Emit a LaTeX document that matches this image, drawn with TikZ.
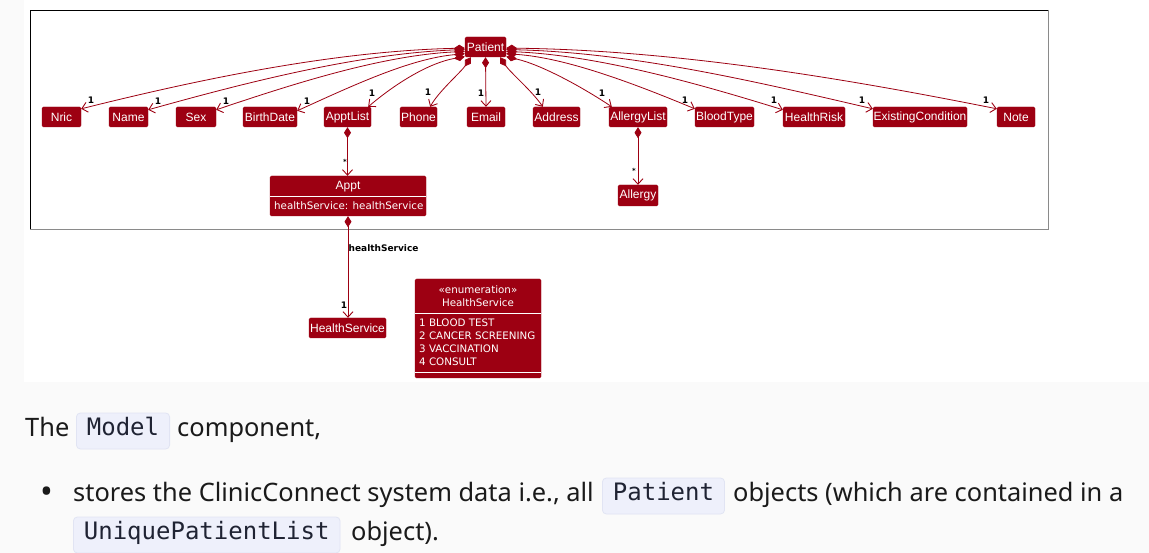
\documentclass[tikz,border=0pt]{standalone}
\usepackage{fontspec}
\usetikzlibrary{arrows.meta}
\newfontfamily\clsfont{Liberation Sans}
\newfontfamily\dvfont{DejaVu Sans}
\newfontfamily\bodyfont{Noto Sans}
\newfontfamily\codefont{DejaVu Sans Mono}
\definecolor{model}{HTML}{9D0012}
\definecolor{pagebg}{HTML}{FAFAFA}
\definecolor{codebg}{HTML}{EEF0FB}
\definecolor{codeborder}{HTML}{E1E4F3}
\definecolor{bodytext}{HTML}{1A1A1A}
\definecolor{codetext}{HTML}{1F2333}
\definecolor{framegrey}{HTML}{8A8A8A}
\begin{document}
\begin{tikzpicture}[x=1pt,y=-1pt,
  cls/.style={fill=model, draw=model, rounded corners=1.5pt, text=white, inner sep=0pt,
    minimum height=20pt, font=\clsfont\fontsize{12}{14}\selectfont},
  boxonly/.style={fill=model, draw=model, rounded corners=1.5pt, inner sep=0pt},
  intext/.style={text=white, inner sep=0pt, font=\dvfont\fontsize{10.3}{12}\selectfont},
  divider/.style={draw=white, line width=0.8pt},
  comp/.style={draw=model, line width=0.8pt,
    {Diamond[length=11pt,width=7pt]}-{Straight Barb[length=5.5pt,width=10pt,line width=0.9pt]}},
  mult/.style={font=\dvfont\bfseries\fontsize{9}{10}\selectfont, text=black, inner sep=0pt},
  body/.style={font=\bodyfont\fontsize{25.4}{30}\selectfont, text=bodytext, inner sep=0pt, anchor=base west},
  codebox/.style={fill=codebg, draw=codeborder, line width=0.8pt, rounded corners=4pt,
    font=\codefont\fontsize{24}{28}\selectfont, text=codetext, inner xsep=10.5pt, inner ysep=0pt,
    text height=13pt, text depth=4pt, minimum height=36pt, anchor=west}
]
\useasboundingbox (0,0) rectangle (1149,553);
% backgrounds
\fill[pagebg] (0,0) rectangle (1149,553);
\fill[white] (24,0) rectangle (1149,382);
% package frame
\draw[framegrey, line width=0.9pt] (1048,10) -- (1048,229) -- (30,229);
\draw[black, line width=0.9pt] (30,229) -- (30,10) -- (1048,10);

% classes
\node[cls, minimum width=41pt] (Patient) at (485.5,47) {Patient};
\node[cls, minimum width=39pt] (Nric) at (61.5,117) {Nric};
\node[cls, minimum width=39pt] (Name) at (128.5,117) {Name};
\node[cls, minimum width=40pt] (Sex) at (196,117) {Sex};
\node[cls, minimum width=54pt] (BirthDate) at (270,117) {BirthDate};
\node[cls, minimum width=47pt] (ApptList) at (347.5,117) {ApptList};
\node[cls, minimum width=37pt] (Phone) at (418.5,117) {Phone};
\node[cls, minimum width=38pt] (Email) at (486,117) {Email};
\node[cls, minimum width=47pt] (Address) at (556.5,117) {Address};
\node[cls, minimum width=58pt] (AllergyList) at (638,117) {AllergyList};
\node[cls, minimum width=59pt] (BloodType) at (724.5,117) {BloodType};
\node[cls, minimum width=62pt] (HealthRisk) at (814,117) {HealthRisk};
\node[cls, minimum width=94pt] (ExistingCondition) at (920,117) {ExistingCondition};
\node[cls, minimum width=38pt] (Note) at (1016,117) {Note};
\node[cls, minimum width=40pt, minimum height=21pt] (Allergy) at (638,195.5) {Allergy};
\node[cls, minimum width=77pt] (HealthService) at (347.5,328) {HealthService};

% Appt class with attribute
\node[boxonly, minimum width=156pt, minimum height=40pt] (Appt) at (348,196) {};
\draw[divider] (Appt.west) -- (Appt.east);
\node[intext, font=\clsfont\fontsize{12}{14}\selectfont] (ApptTitle) at (348,186.5) {Appt};
\node[intext, anchor=west] (ApptAttr) at (274,206) {healthService: healthService};

% enumeration
\node[boxonly, minimum width=126pt, minimum height=99pt] (Enum) at (478,328.5) {};
\draw[divider] ([yshift=-35pt]Enum.north west) -- ([yshift=-35pt]Enum.north east);
\draw[divider] ([yshift=6pt]Enum.south west) -- ([yshift=6pt]Enum.south east);
\node[intext] (EnumStereo) at (478,289.5) {«enumeration»};
\node[intext] (EnumName) at (478,303) {HealthService};
\node[intext, anchor=west] (EnumA) at (419,323) {1 BLOOD TEST};
\node[intext, anchor=west] (EnumB) at (419,336) {2 CANCER SCREENING};
\node[intext, anchor=west] (EnumC) at (419,349) {3 VACCINATION};
\node[intext, anchor=west] (EnumD) at (419,362) {4 CONSULT};

% composition edges from Patient
\draw[comp] (Patient.183) .. controls +(-130,3) and +(120,-30) .. ([yshift=-2pt]Nric.north east);
\draw[comp] (Patient.187) .. controls +(-105,4) and +(100,-28) .. ([yshift=-3pt]Name.north east);
\draw[comp] (Patient.192) .. controls +(-82,4) and +(80,-27) .. ([yshift=-3pt]Sex.north east);
\draw[comp] (Patient.198) .. controls +(-55,5) and +(55,-25) .. ([yshift=-4pt]BirthDate.north east);
\draw[comp] (Patient.205) .. controls +(-35,6) and +(28,-24) .. ([xshift=-3pt]ApptList.north east);
\draw[comp] (Patient.215) .. controls +(-10,15) and +(8,-15) .. ([xshift=-7pt]Phone.north east);
\draw[comp] (Patient.south) -- (Email.north);
\draw[comp] (Patient.325) .. controls +(10,15) and +(-10,-15) .. ([xshift=10pt]Address.north west);
\draw[comp] (Patient.335) .. controls +(35,8) and +(-30,-20) .. ([xshift=3pt]AllergyList.north west);
\draw[comp] (Patient.342) .. controls +(60,4) and +(-60,-25) .. ([yshift=-2pt]BloodType.north west);
\draw[comp] (Patient.348) .. controls +(90,4) and +(-90,-28) .. ([yshift=-3pt]HealthRisk.north west);
\draw[comp] (Patient.353) .. controls +(125,3) and +(-120,-28) .. ([yshift=-2pt]ExistingCondition.north west);
\draw[comp] (Patient.357) .. controls +(170,2) and +(-150,-30) .. ([yshift=-2pt]Note.north west);

% other compositions
\draw[comp] (ApptList.south) -- (ApptList.south |- Appt.north);
\draw[comp] (AllergyList.south) -- (Allergy.north);
\draw[comp] (Appt.south) -- (Appt.south |- HealthService.north);

% multiplicities
\node[mult] (mNric) at (91,100) {1};
\node[mult] (mName) at (158,101) {1};
\node[mult] (mSex) at (226,101) {1};
\node[mult] (mBirth) at (307,101) {1};
\node[mult] (mApptList) at (372,93) {1};
\node[mult] (mPhone) at (428,92) {1};
\node[mult] (mEmail) at (481,93) {1};
\node[mult] (mAddress) at (538,92) {1};
\node[mult] (mAllergyList) at (602,93) {1};
\node[mult] (mBlood) at (685,100) {1};
\node[mult] (mRisk) at (774,100) {1};
\node[mult] (mCond) at (862,100) {1};
\node[mult] (mNote) at (986,100) {1};
\node[mult, font=\dvfont\bfseries\fontsize{7}{8}\selectfont] (mAppt) at (345,162) {*};
\node[mult, font=\dvfont\bfseries\fontsize{7}{8}\selectfont] (mAllergy) at (634,171) {*};
\node[mult, anchor=west] (roleHS) at (348.5,248) {healthService};
\node[mult] (mHS) at (344,305) {1};

% page text
\node[body] (t1) at (25,436) {The};
\node[codebox] (codeModel) at (76,431) {Model};
\node[body] (t2) at (177,436) {component,};
\node[body, font=\bodyfont\fontsize{34}{36}\selectfont] (bullet) at (40,503) {•};
\node[body] (t3) at (73,501) {stores the ClinicConnect system data i.e., all};
\node[codebox] (codePatient) at (602,496) {Patient};
\node[body] (t4) at (733,501) {objects (which are contained in a};
\node[codebox] (codeUPL) at (73,535) {UniquePatientList};
\node[body] (t5) at (351,540) {object).};
\end{tikzpicture}
\end{document}
